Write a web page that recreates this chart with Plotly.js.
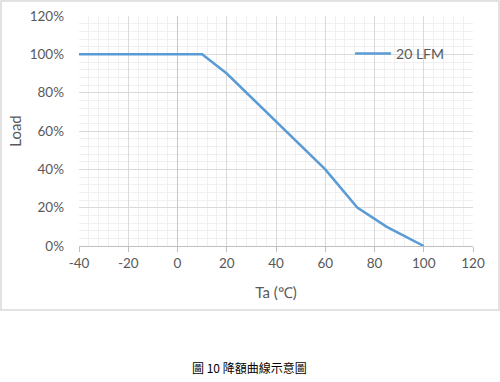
<!DOCTYPE html>
<html>
<head>
<meta charset="utf-8">
<script src="https://cdn.plot.ly/plotly-3.0.1.min.js"></script>
<style>html,body{margin:0;padding:0;background:#fff;}#chart{width:500px;height:382px;}</style>
</head>
<body>
<div id="chart"></div>
<script>
const seriesName = "20 LFM";
const temperature = [-40, 10, 20, 40, 50, 60, 73, 85, 100];
const loadPct = [100, 100, 90, 65, 52.5, 40, 20, 10, 0];
const xTickVals = [-40, -20, 0, 20, 40, 60, 80, 100, 120];
const xTickLabels = ["-40", "-20", "0", "20", "40", "60", "80", "100", "120"];
const xTitle = "Ta (℃)";
const yTitle = "Load";
const caption = "圖 10 降額曲線示意圖";

const txt = "#595959";
const trace = {
  x: temperature, y: loadPct, name: seriesName, type: "scatter", mode: "lines",
  line: {color: "#5b9bd5", width: 2.5}
};
const layout = {
  width: 500, height: 382,
  margin: {l: 79, r: 27, t: 16, b: 136},
  paper_bgcolor: "#ffffff", plot_bgcolor: "#ffffff",
  font: {family: "Lato, 'Open Sans', sans-serif", color: txt, size: 13},
  showlegend: true,
  legend: {x: 0.688, y: 0.905, xanchor: "left", yanchor: "top", bgcolor: "rgba(0,0,0,0)",
           font: {size: 14, color: txt}, itemwidth: 36},
  xaxis: {
    range: [-40, 120], tickmode: "array", tickvals: xTickVals, ticktext: xTickLabels,
    showgrid: true, gridcolor: "#d9d9d9", gridwidth: 1,
    minor: {dtick: 4, tick0: -40, showgrid: true, gridcolor: "#f0f0f0", gridwidth: 1},
    showline: true, linecolor: "#bfbfbf", linewidth: 1,
    ticks: "outside", ticklen: 5, tickcolor: "#bfbfbf",
    zeroline: true, zerolinecolor: "#c8c8c8", zerolinewidth: 1,
    tickfont: {size: 13.5, color: txt},
    title: {text: xTitle, font: {size: 15, color: txt}, standoff: 17}
  },
  yaxis: {
    range: [0, 120], dtick: 20,
    ticksuffix: "%",
    showgrid: true, gridcolor: "#d9d9d9", gridwidth: 1,
    minor: {dtick: 4, showgrid: true, gridcolor: "#f0f0f0", gridwidth: 1},
    showline: false, zeroline: false, ticks: "",
    ticklabelstandoff: 14,
    tickfont: {size: 13.5, color: txt},
    title: {text: yTitle, font: {size: 15, color: txt}, standoff: 4}
  },
  shapes: [
    {type: "rect", xref: "paper", yref: "paper", x0: -0.198, x1: 1.066, y0: -0.278, y1: 1.065,
     line: {color: "#d9d9d9", width: 1.5}, fillcolor: "rgba(0,0,0,0)", layer: "below"}
  ],
  annotations: [
    {text: caption, xref: "paper", yref: "paper", x: 0.433, y: -0.527, xanchor: "center", yanchor: "middle",
     showarrow: false, font: {family: "'Noto Sans CJK TC', sans-serif", size: 12, color: "#000000"}}
  ]
};
Plotly.newPlot("chart", [trace], layout, {staticPlot: true, displayModeBar: false});
</script>
</body>
</html>
